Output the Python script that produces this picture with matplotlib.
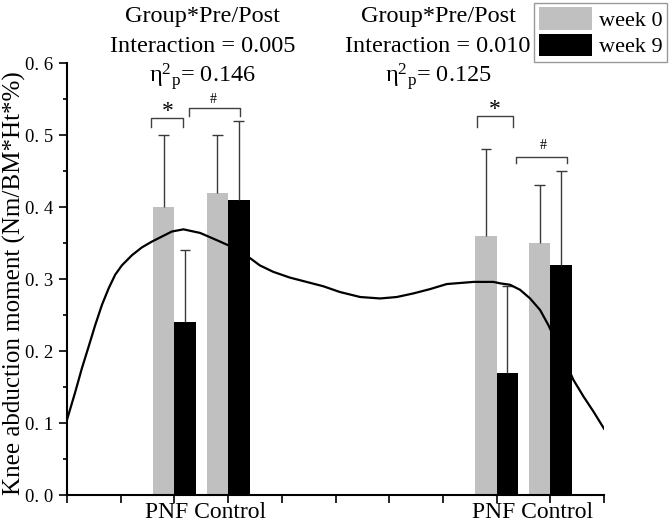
import matplotlib
matplotlib.use("Agg")
import matplotlib.pyplot as plt
from matplotlib.patches import Patch
import numpy as np

plt.rcParams.update({
    "font.family": "Liberation Serif",
    "mathtext.fontset": "custom",
    "mathtext.rm": "Liberation Serif",
    "mathtext.it": "Liberation Serif:italic",
    "axes.spines.top": False,
    "axes.spines.right": False,
})

# ── Data ──────────────────────────────────────────────────────────────────────
groups = ["PNF", "Control"]
# bar left edges on the 0-10 x axis (gray / black pairs)
week0_x = [1.6, 2.6, 7.6, 8.6]
week9_x = [2.0, 3.0, 8.0, 9.0]
week0_mean = [0.40, 0.42, 0.36, 0.35]
week9_mean = [0.24, 0.41, 0.17, 0.32]
week0_sd = [0.10, 0.08, 0.12, 0.08]
week9_sd = [0.10, 0.11, 0.12, 0.13]

# the smooth background line
curve_x = [0.0, 0.155, 0.279, 0.404, 0.527, 0.652, 0.777, 0.899, 1.024,
           1.210, 1.397, 1.583, 1.769, 1.955, 2.17, 2.48, 2.79, 3.00, 3.41,
           3.59, 3.84, 4.15, 4.46, 4.77, 5.08, 5.46, 5.83, 6.14, 6.45, 6.76,
           7.07, 7.57, 7.94, 8.063, 8.250, 8.436, 8.622, 8.808, 8.963, 9.20,
           9.428, 9.615, 9.801, 10.0]
curve_y = [0.104, 0.143, 0.176, 0.206, 0.236, 0.264, 0.287, 0.306, 0.319,
           0.333, 0.344, 0.352, 0.359, 0.366, 0.369, 0.364, 0.354, 0.347,
           0.329, 0.319, 0.310, 0.302, 0.296, 0.290, 0.282, 0.275, 0.273,
           0.275, 0.280, 0.286, 0.293, 0.296, 0.296, 0.294, 0.292, 0.285,
           0.273, 0.257, 0.236, 0.198, 0.160, 0.137, 0.116, 0.092]

ytick_vals = [0.0, 0.1, 0.2, 0.3, 0.4, 0.5, 0.6]
ytick_labels = ["0. 0", "0. 1", "0. 2", "0. 3", "0. 4", "0. 5", "0. 6"]

stats = [("0.005", "0.146"), ("0.010", "0.125")]

GRAY = "#c0c0c0"
ERR = "#3a3a3a"
BAR_W = 0.4

fig = plt.figure(figsize=(6.69, 5.23), dpi=100)
ax = fig.add_axes([0.100, 0.0535, 0.803, 0.826])

ax.bar(week0_x, week0_mean, width=BAR_W, align="edge", color=GRAY, zorder=2)
ax.bar(week9_x, week9_mean, width=BAR_W, align="edge", color="black", zorder=2)

# upper-only error bars, cap only at the top
for xs, m, sd in [(week0_x, week0_mean, week0_sd),
                  (week9_x, week9_mean, week9_sd)]:
    xc = np.array(xs) + BAR_W / 2
    top = np.array(m) + np.array(sd)
    ax.vlines(xc, m, top, color=ERR, lw=1, zorder=2.5)
    ax.hlines(top, xc - BAR_W * 0.25, xc + BAR_W * 0.25, color=ERR, lw=1,
              zorder=2.5)

ax.plot(curve_x, curve_y, color="black", lw=1.6, zorder=3,
        solid_joinstyle="round")

ax.set_xlim(0, 10)
ax.set_ylim(0, 0.6)
ax.set_xticks(np.arange(0, 11))
ax.set_xticklabels([])
ax.set_yticks(ytick_vals, ytick_labels)
ax.set_yticks(np.arange(0.05, 0.6, 0.1), minor=True)
ax.tick_params(axis="both", which="major", direction="out", length=6,
               width=1.2, labelsize=13.5, pad=4)
ax.tick_params(axis="y", which="minor", direction="out", length=3, width=1.2)
for s in ("left", "bottom"):
    ax.spines[s].set_linewidth(1.5)

ax.set_ylabel("Knee abduction moment (Nm/BM*Ht*%)", fontsize=18)
ax.yaxis.set_label_coords(-0.076, 0.49)

# group labels under the axis
for xc, txt in zip([2.59, 8.66], ["PNF Control", "PNF Control"]):
    ax.text(xc, -0.024, txt, ha="center", va="center", fontsize=17,
            clip_on=False)

# interaction statistics above each group
for xc, (p, eta) in zip([2.53, 6.91], stats):
    ax.text(xc, 0.665, "Group*Pre/Post", ha="center", va="center",
            fontsize=17.5, clip_on=False)
    ax.text(xc, 0.623, "Interaction = " + p, ha="center", va="center",
            fontsize=17.5, clip_on=False)
    ax.text(xc, 0.581, "η$^2$$_\\mathrm{p}$= " + eta, ha="center",
            va="center", fontsize=17.5, clip_on=False)

# significance brackets
def bracket(x0, x1, ytop, ybot, label, lx, ly, fs):
    ax.plot([x0, x0, x1, x1], [ybot, ytop, ytop, ybot], color="#404040",
            lw=1, zorder=4, clip_on=False)
    ax.text(lx, ly, label, ha="center", va="center", fontsize=fs)

bracket(1.57, 2.16, 0.524, 0.511, "*", 1.88, 0.533, 17)
bracket(2.27, 3.22, 0.537, 0.527, "#", 2.72, 0.549, 10)
bracket(7.63, 8.31, 0.526, 0.511, "*", 7.97, 0.535, 17)
bracket(8.36, 9.31, 0.469, 0.461, "#", 8.86, 0.485, 10)

handles = [Patch(facecolor=GRAY, edgecolor="none", label="week 0"),
           Patch(facecolor="black", edgecolor="none", label="week 9")]
leg = fig.legend(handles=handles, loc="upper right",
                 bbox_to_anchor=(667 / 669, 1 - 3 / 523), fontsize=16,
                 frameon=True, fancybox=False, handlelength=2.4,
                 handleheight=1.2, labelspacing=0.1, borderpad=0.2,
                 handletextpad=0.3, borderaxespad=0)
leg.get_frame().set_edgecolor("#808080")
leg.get_frame().set_linewidth(1)

fig.savefig("out.png", dpi=100)
